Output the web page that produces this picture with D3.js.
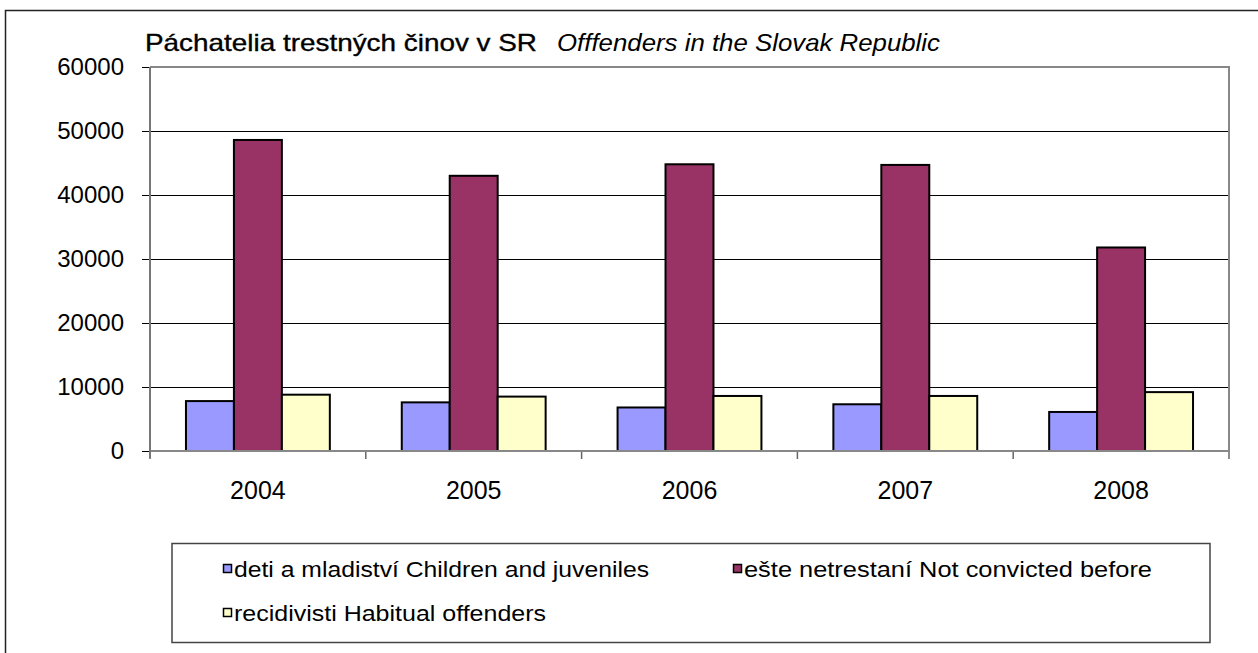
<!DOCTYPE html>
<html>
<head>
<meta charset="utf-8">
<script src="https://cdn.jsdelivr.net/npm/d3@7"></script>
<style>
  html, body { margin: 0; padding: 0; background: #fff; }
  svg { display: block; font-family: Arial, "Liberation Sans", sans-serif; }
</style>
</head>
<body>
<svg id="chart" width="1258" height="653"></svg>
<script>
const years = ["2004", "2005", "2006", "2007", "2008"];
const seriesNames = [
  "deti a mladiství  Children and juveniles",
  "ešte netrestaní  Not convicted before",
  "recidivisti  Habitual offenders"
];
const children = [7800, 7600, 6800, 7300, 6100];
const notConvicted = [48600, 43000, 44800, 44700, 31800];
const habitual = [8800, 8500, 8600, 8600, 9200];
const yTicks = [0, 10000, 20000, 30000, 40000, 50000, 60000];
const colors = ["#9999FF", "#993366", "#FFFFCC"];
const titleMain = "Páchatelia trestných činov v SR";
const titleSub = "Offfenders in the Slovak Republic";

const seriesValues = [children, notConvicted, habitual];

const svg = d3.select("#chart");
const plot = { left: 150, right: 1229, top: 67, bottom: 451 };

// outer border
svg.append("rect")
  .attr("x", 5.5).attr("y", 10.5)
  .attr("width", 1300).attr("height", 700)
  .attr("fill", "none").attr("stroke", "#222").attr("stroke-width", 1.5);

const x0 = d3.scaleBand().domain(years).range([plot.left, plot.right]).padding(0);
const x1 = d3.scaleBand().domain(d3.range(seriesNames.length))
  .range([0, x0.bandwidth()]).paddingInner(0).paddingOuter(0.75);
const y = d3.scaleLinear().domain([0, 60000]).range([plot.bottom, plot.top]);

// gridlines
svg.append("g").selectAll("line").data(yTicks.filter(d => d > 0 && d < 60000)).join("line")
  .attr("x1", plot.left).attr("x2", plot.right)
  .attr("y1", d => Math.round(y(d)) + 0.5).attr("y2", d => Math.round(y(d)) + 0.5)
  .attr("stroke", "#000").attr("stroke-width", 1);

// plot frame top & right
svg.append("path")
  .attr("d", `M${plot.left},${plot.top} H${plot.right} V${plot.bottom}`)
  .attr("fill", "none").attr("stroke", "#888").attr("stroke-width", 2);

// y axis
const yAxis = d3.axisLeft(y).tickValues(yTicks).tickSize(8).tickPadding(18)
  .tickFormat(d3.format("d"));
const gy = svg.append("g").attr("transform", `translate(${plot.left},0)`).call(yAxis);
gy.select(".domain").remove();
gy.selectAll(".tick line").attr("stroke", "#000").attr("stroke-width", 1);
gy.selectAll("text").attr("font-size", 24).attr("fill", "#000")
  .attr("font-family", "Arial, 'Liberation Sans', sans-serif");

// bars
const groups = svg.append("g").selectAll("g").data(years).join("g")
  .attr("transform", d => `translate(${x0(d)},0)`);
groups.selectAll("rect")
  .data((d, i) => seriesValues.map((vals, s) => ({ s, v: vals[i] })))
  .join("rect")
  .attr("x", d => x1(d.s))
  .attr("width", x1.bandwidth())
  .attr("y", d => y(d.v))
  .attr("height", d => plot.bottom - y(d.v))
  .attr("fill", d => colors[d.s])
  .attr("stroke", "#000").attr("stroke-width", 2);

// x axis
const xAxis = d3.axisBottom(x0).tickSize(0).tickPadding(30);
const gx = svg.append("g").attr("transform", `translate(0,${plot.bottom})`).call(xAxis);
gx.select(".domain").remove();
gx.selectAll("text").attr("font-size", 25).attr("fill", "#000")
  .attr("font-family", "Arial, 'Liberation Sans', sans-serif");
// category boundary ticks
svg.append("g").selectAll("line").data(years.map(d => x0(d) + x0.bandwidth()).concat([plot.left])).join("line")
  .attr("x1", d => d).attr("x2", d => d)
  .attr("y1", plot.bottom).attr("y2", plot.bottom + 8)
  .attr("stroke", "#666").attr("stroke-width", 1.5);
// axis lines
svg.append("line").attr("x1", plot.left).attr("x2", plot.right)
  .attr("y1", plot.bottom).attr("y2", plot.bottom)
  .attr("stroke", "#888").attr("stroke-width", 2);
svg.append("line").attr("x1", plot.left).attr("x2", plot.left)
  .attr("y1", plot.top).attr("y2", plot.bottom + 7)
  .attr("stroke", "#777").attr("stroke-width", 2);

// title
svg.append("text").attr("x", 145).attr("y", 51)
  .attr("font-size", 24).attr("fill", "#000")
  .attr("stroke", "#000").attr("stroke-width", 0.35)
  .attr("textLength", 392).attr("lengthAdjust", "spacingAndGlyphs")
  .text(titleMain);
svg.append("text").attr("x", 557).attr("y", 51)
  .attr("font-size", 24).attr("font-style", "italic").attr("fill", "#000")
  .attr("textLength", 383).attr("lengthAdjust", "spacingAndGlyphs")
  .text(titleSub);

// legend
svg.append("rect").attr("x", 172).attr("y", 543.5).attr("width", 1038).attr("height", 99)
  .attr("fill", "#fff").attr("stroke", "#444").attr("stroke-width", 1.5);
const legendPos = [
  { x: 223, y: 577, w: 415 },
  { x: 733, y: 577, w: 408 },
  { x: 223, y: 621, w: 312 }
];
const lg = svg.append("g").selectAll("g").data(seriesNames).join("g")
  .attr("transform", (d, i) => `translate(${legendPos[i].x},${legendPos[i].y})`);
lg.append("rect").attr("x", 0.5).attr("y", -12.5).attr("width", 8).attr("height", 8)
  .attr("fill", (d, i) => colors[i]).attr("stroke", "#000").attr("stroke-width", 1.5);
lg.append("text").attr("x", 11).attr("y", 0)
  .attr("font-size", 22).attr("fill", "#000")
  .attr("textLength", (d, i) => legendPos[i].w).attr("lengthAdjust", "spacingAndGlyphs")
  .text(d => d);
</script>
</body>
</html>
